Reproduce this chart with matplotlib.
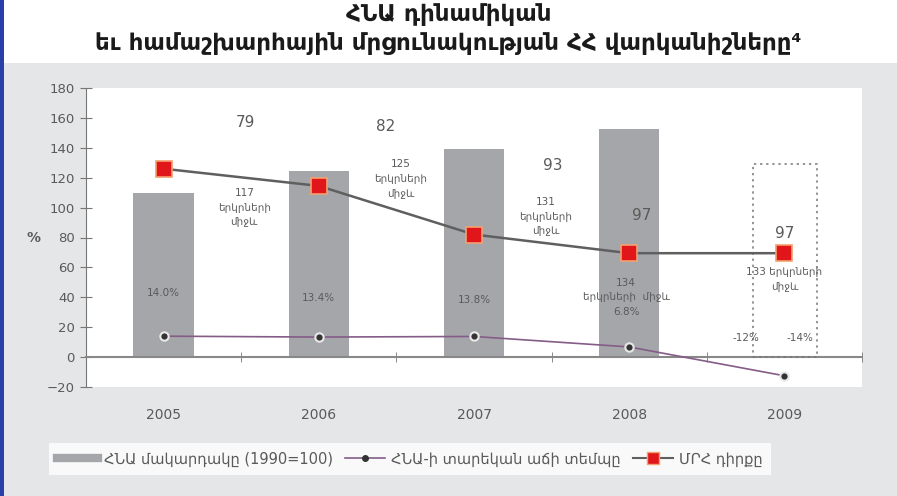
import numpy as np
import matplotlib.pyplot as plt
import matplotlib.transforms as mtransforms
from matplotlib.patches import Rectangle
from matplotlib.lines import Line2D

# =========================
# DATA
# =========================
years = ["2005", "2006", "2007", "2008", "2009"]
gdp_level = [110, 124.5, 139, 152.5]          # ՀՆԱ մակարդակը (1990=100), 2005-2008
gdp_growth = [14.0, 13.4, 13.8, 6.8, -12.5]   # ՀՆԱ-ի տարեկան աճի տեմպը
rank_pos = [126, 114.5, 82, 69.5, 69.5]       # ՄՐՀ դիրքը (plotted position)
rank_vals = ["79", "82", "93", "97", "97"]
countries = ["117", "125", "131", "134", "133"]
growth_labels = ["14.0%", "13.4%", "13.8%", "6.8%"]
forecast_top = 129
forecast_labels = ["-12%", "-14%"]

title = "ՀՆԱ դինամիկան\nեւ համաշխարհային մրցունակության ՀՀ վարկանիշները⁴"
legend_labels = ["ՀՆԱ մակարդակը (1990=100)", "ՀՆԱ-ի տարեկան աճի տեմպը", "ՄՐՀ դիրքը"]

BG = "#e5e6e8"
TXT = "#5a5a5a"
BAR = "#a5a6a9"

plt.rcParams['font.family'] = ['DejaVu Sans']

fig = plt.figure(figsize=(8.97, 4.96), dpi=100, facecolor=BG)
# white title band + blue left border
fig.patches.append(Rectangle((0, 1 - 63 / 496), 1, 63 / 496, transform=fig.transFigure,
                             facecolor="white", edgecolor="none", zorder=0))
fig.patches.append(Rectangle((0, 0), 4 / 897, 1, transform=fig.transFigure,
                             facecolor="#2b3fa8", edgecolor="none", zorder=1))
fig.text(0.5, 1 - 29 / 496, title, ha="center", va="center", fontsize=16.5, fontweight="bold",
         color="#1a1a1a", linespacing=1.3)

ax = fig.add_axes([86 / 897, 109 / 496, 776 / 897, 299 / 496])
ax.set_facecolor("white")
x = np.arange(len(years))

# bars
ax.bar(x[:len(gdp_level)], gdp_level, width=0.39, color=BAR, zorder=2)

# forecast box 2009
ax.add_patch(Rectangle((x[4] - 0.2, 0), 0.41, forecast_top, fill=False,
                       edgecolor="#777777", linestyle=(0, (1.5, 2.5)), linewidth=1.1, zorder=3))

# growth line
ax.plot(x, gdp_growth, color="#845c88", linewidth=1.2, zorder=4)
ax.plot(x, gdp_growth, linestyle="none", marker="o", markersize=6, markerfacecolor="#333333",
        markeredgecolor="#e8e8e8", markeredgewidth=1.5, zorder=5)

# rank line
ax.plot(x, rank_pos, color="#5f5f5f", linewidth=1.8, zorder=4)
ax.plot(x, rank_pos, linestyle="none", marker="s", markersize=12, markerfacecolor="#e0161b",
        markeredgecolor="#f4a070", markeredgewidth=1.2, zorder=5)

# annotations
big = dict(ha="center", va="center", fontsize=11, color=TXT, zorder=6)
small = dict(ha="center", va="center", fontsize=7.5, color=TXT, linespacing=1.6, zorder=6)
rank_xy = [(0.53, 157), (1.43, 154), (2.51, 128), (3.08, 95), (4.0, 83)]
for (tx, ty), r in zip(rank_xy, rank_vals):
    ax.text(tx, ty, r, **big)
ax.text(0.52, 100, countries[0] + "\nերկրների\nմիջև", **small)
ax.text(1.53, 119, countries[1] + "\nերկրների\nմիջև", **small)
ax.text(2.46, 94, countries[2] + "\nերկրների\nմիջև", **small)
ax.text(2.98, 40, countries[3] + "\nերկրների  միջև\n" + growth_labels[3], **small)
ax.text(4.0, 52, countries[4] + " երկրների\nմիջև", **small)
for xi, lab, ty in zip(x[:3], growth_labels[:3], [43, 39.5, 38]):
    ax.text(xi, ty, lab, **small)
ax.text(3.75, 13, forecast_labels[0], **small)
ax.text(4.1, 13, forecast_labels[1], **small)

# axes styling
ax.set_xlim(-0.5, 4.5)
ax.set_ylim(-20, 180)
ax.set_yticks(np.arange(-20, 181, 20))
ax.tick_params(axis="y", direction="inout", length=8, color="#777777", labelcolor=TXT,
               labelsize=9.5, pad=4)
for s in ["top", "right"]:
    ax.spines[s].set_visible(False)
ax.spines["left"].set_color("#777777")
ax.spines["bottom"].set_position(("data", 0))
ax.spines["bottom"].set_color("#888888")
ax.spines["bottom"].set_linewidth(1.5)
ax.set_xticks(x)
ax.set_xticklabels([])
ax.tick_params(axis="x", which="major", length=0)
ax.set_xticks(np.arange(0.5, 4.6, 1), minor=True)
ax.tick_params(axis="x", which="minor", direction="inout", length=7, color="#777777")
ax.text(-0.068, 0.5, "%", transform=ax.transAxes, ha="center", va="center",
        fontsize=10, fontweight="bold", color=TXT)

trans = mtransforms.blended_transform_factory(ax.transData, ax.transAxes)
for xi, yr in zip(x, years):
    ax.text(xi, -0.095, yr, transform=trans, ha="center", va="center", fontsize=10, color=TXT)

# legend
handles = [
    Line2D([], [], color=BAR, linewidth=6),
    Line2D([], [], color="#845c88", linewidth=1.2, marker="o", markersize=4,
           markerfacecolor="#333333", markeredgecolor="#333333"),
    Line2D([], [], color="#5f5f5f", linewidth=1.5, marker="s", markersize=8,
           markerfacecolor="#e0161b", markeredgecolor="#f4a070"),
]
leg = fig.legend(handles, legend_labels, loc="center left", bbox_to_anchor=(42 / 897, 1 - 459 / 496),
                 ncol=3, frameon=True, fontsize=10.5, handlelength=2.8, handletextpad=0.4,
                 columnspacing=0.8, borderpad=0.55, fancybox=False)
leg.get_frame().set_facecolor("white")
leg.get_frame().set_edgecolor("none")
for t in leg.get_texts():
    t.set_color(TXT)

fig.savefig("out.png", dpi=100, facecolor=BG)
